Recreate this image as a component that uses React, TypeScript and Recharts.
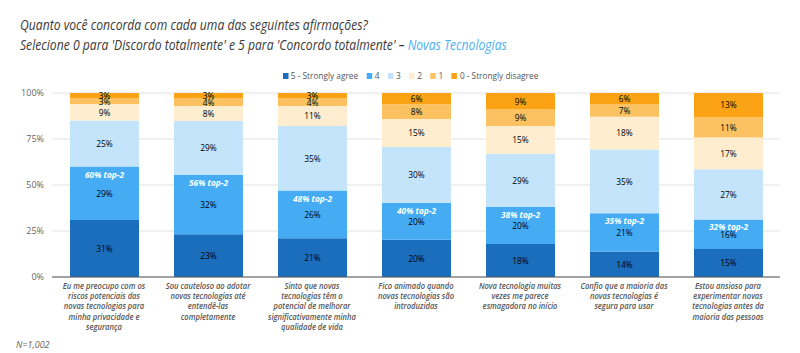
import { Bar, BarChart, CartesianGrid, LabelList, XAxis, YAxis } from 'recharts'

const FONT = '"Open Sans", sans-serif'

const categories = [
  'Eu me preocupo com os\nriscos potenciais das\nnovas tecnologias para\nminha privacidade e\nsegurança',
  'Sou cauteloso ao adotar\nnovas tecnologias até\nentendê-las\ncompletamente',
  'Sinto que novas\ntecnologias têm o\npotencial de melhorar\nsignificativamente minha\nqualidade de vida',
  'Fico animado quando\nnovas tecnologias são\nintroduzidas',
  'Nova tecnologia muitas\nvezes me parece\nesmagadora no início',
  'Confio que a maioria das\nnovas tecnologias é\nsegura para usar',
  'Estou ansioso para\nexperimentar novas\ntecnologias antes da\nmaioria das pessoas',
]

const s5 = [31, 23, 21, 20, 18, 14, 15]
const s4 = [29, 32, 26, 20, 20, 21, 16]
const s3 = [25, 29, 35, 30, 29, 35, 27]
const s2 = [9, 8, 11, 15, 15, 18, 17]
const s1 = [3, 4, 4, 8, 9, 7, 11]
const s0 = [3, 3, 3, 6, 9, 6, 13]
const top2 = [60, 56, 48, 40, 38, 35, 32]

const yTicks = [0, 0.25, 0.5, 0.75, 1]

const series = [
  { key: 'v5', name: '5 - Strongly agree', color: '#1b6ebb', text: '#ffffff' },
  { key: 'v4', name: '4', color: '#45acf4', text: '#222222' },
  { key: 'v3', name: '3', color: '#c4e4fb', text: '#222222' },
  { key: 'v2', name: '2', color: '#feedcf', text: '#222222' },
  { key: 'v1', name: '1', color: '#fcc261', text: '#222222' },
  { key: 'v0', name: '0 - Strongly disagree', color: '#fba314', text: '#222222' },
]

const data = categories.map((name, i) => ({
  name,
  v5: s5[i],
  v4: s4[i],
  v3: s3[i],
  v2: s2[i],
  v1: s1[i],
  v0: s0[i],
  top2: top2[i],
}))

function CatTick(props: any) {
  const { x, y, payload } = props
  const lines = String(payload.value).split('\n')
  return (
    <g transform={`translate(${x},${y}) scale(0.8,1)`}>
      <text
        textAnchor="middle"
        fontSize={9.5}
        fontStyle="italic"
        fontWeight={600}
        fill="#555"
        fontFamily={FONT}
      >
        {lines.map((l, i) => (
          <tspan key={i} x={0} dy={i === 0 ? 4 : 10.2}>
            {l}
          </tspan>
        ))}
      </text>
    </g>
  )
}

function ValueLabel(props: any) {
  const { x, y, width, height, value, fill } = props
  const cx = x + width / 2
  const cy = y + height / 2
  return (
    <text
      transform={`translate(${cx},${cy}) scale(0.88,1)`}
      textAnchor="middle"
      dy={3.3}
      fontSize={9.5}
      fill={fill}
      fontFamily={FONT}
    >
      {`${value}%`}
    </text>
  )
}

function Top2Label(props: any) {
  const { x, y, width, value } = props
  return (
    <text
      transform={`translate(${x + width / 2},${y + 11}) scale(0.88,1)`}
      textAnchor="middle"
      fontSize={9.5}
      fontStyle="italic"
      fontWeight={700}
      fill="#ffffff"
      fontFamily={FONT}
    >
      {`${value}% top-2`}
    </text>
  )
}

export default function App() {
  return (
    <div
      style={{
        position: 'absolute',
        left: 0,
        top: 0,
        width: 800,
        height: 353,
        background: '#fff',
        fontFamily: FONT,
      }}
    >
      <div
        style={{
          position: 'absolute',
          left: 20,
          top: 14,
          fontSize: 15,
          lineHeight: '20px',
          fontStyle: 'italic',
          fontWeight: 500,
          color: '#3a3a3a',
          whiteSpace: 'nowrap',
          transform: 'scaleX(0.81)',
          transformOrigin: 'left top',
        }}
      >
        <div>Quanto você concorda com cada uma das seguintes afirmações?</div>
        <div>
          Selecione 0 para 'Discordo totalmente' e 5 para 'Concordo totalmente' –{' '}
          <span style={{ color: '#4db0f6' }}>Novas Tecnologias</span>
        </div>
      </div>

      <div
        style={{
          position: 'absolute',
          left: 14,
          top: 69,
          width: 800,
          display: 'flex',
          justifyContent: 'center',
          fontSize: 9,
          color: '#555',
          transform: 'scaleX(0.92)',
          transformOrigin: '407px 0',
        }}
      >
        {series.map((s) => (
          <div key={s.key} style={{ display: 'flex', alignItems: 'center', marginRight: 9 }}>
            <span
              style={{
                display: 'inline-block',
                width: 6,
                height: 6,
                background: s.color,
                marginRight: 3,
              }}
            />
            {s.name}
          </div>
        ))}
      </div>

      <div style={{ position: 'absolute', left: 0, top: 0 }}>
        <BarChart
          width={800}
          height={353}
          data={data}
          stackOffset="expand"
          margin={{ top: 93, right: 20, bottom: 16, left: 0 }}
        >
          <CartesianGrid vertical={false} stroke="#e3e3e3" />
          <XAxis
            dataKey="name"
            interval={0}
            height={60}
            tickLine={false}
            axisLine={{ stroke: '#555' }}
            tick={<CatTick />}
          />
          <YAxis
            width={52}
            domain={[0, 1]}
            ticks={yTicks}
            tickFormatter={(v: number) => `${Math.round(v * 100)}%`}
            axisLine={false}
            tickLine={false}
            tick={{ fontSize: 9, fill: '#666', fontFamily: FONT }}
          />
          {series.map((s) => (
            <Bar
              key={s.key}
              dataKey={s.key}
              name={s.name}
              stackId="a"
              fill={s.color}
              barSize={69}
              isAnimationActive={false}
            >
              <LabelList dataKey={s.key} content={<ValueLabel fill={s.text} />} />
              {s.key === 'v4' && <LabelList dataKey="top2" content={<Top2Label />} />}
            </Bar>
          ))}
        </BarChart>
      </div>

      <div
        style={{
          position: 'absolute',
          left: 16,
          top: 338,
          fontSize: 9,
          fontStyle: 'italic',
          color: '#666',
        }}
      >
        N=1,002
      </div>
    </div>
  )
}
